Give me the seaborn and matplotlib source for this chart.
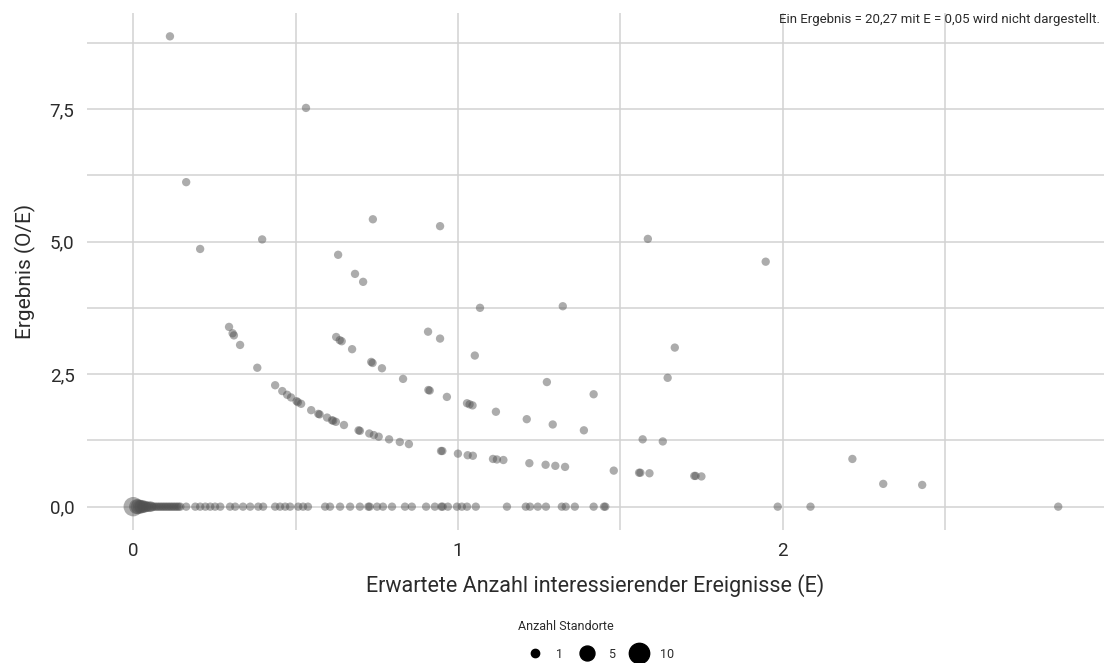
import numpy as np
import pandas as pd
import matplotlib
matplotlib.use("Agg")
import matplotlib.pyplot as plt
from matplotlib.lines import Line2D
from matplotlib.ticker import FixedLocator, FuncFormatter
import seaborn as sns

# ---------------- data ----------------
# expected events (E), result (O/E), number of sites per point
e_pos = [0.113, 0.163, 0.206, 0.295, 0.306, 0.310, 0.329, 0.382, 0.437, 0.459,
         0.474, 0.486, 0.503, 0.507, 0.517, 0.548, 0.570, 0.574, 0.597, 0.612,
         0.616, 0.624, 0.649, 0.694, 0.698, 0.727, 0.741, 0.756, 0.788, 0.821,
         0.849, 0.948, 0.952, 1.000, 1.030, 1.046, 1.108, 1.120, 1.140, 1.220,
         1.270, 1.300, 1.330, 1.480, 1.558, 1.562, 1.590, 1.728, 1.732, 1.750,
         2.310, 2.430,
         0.397, 0.625, 0.636, 0.642, 0.674, 0.733, 0.737, 0.766, 0.831, 0.909,
         0.913, 0.966, 1.028, 1.036, 1.045, 1.117, 1.212, 1.292, 1.388, 1.569,
         1.631, 2.215,
         0.631, 0.683, 0.708, 0.908, 0.945, 1.052, 1.274, 1.418,
         0.532, 0.738, 1.068, 1.646,
         0.945, 1.323, 1.668,
         1.585, 1.948]
oe_pos = [8.87, 6.12, 4.86, 3.39, 3.27, 3.23, 3.05, 2.62, 2.29, 2.18,
          2.11, 2.06, 1.99, 1.97, 1.94, 1.82, 1.75, 1.74, 1.68, 1.63,
          1.62, 1.60, 1.54, 1.44, 1.43, 1.38, 1.35, 1.32, 1.27, 1.22,
          1.18, 1.05, 1.05, 1.00, 0.97, 0.96, 0.90, 0.89, 0.88, 0.82,
          0.79, 0.77, 0.75, 0.68, 0.64, 0.64, 0.63, 0.58, 0.58, 0.57,
          0.43, 0.41,
          5.04, 3.20, 3.14, 3.12, 2.97, 2.73, 2.71, 2.61, 2.41, 2.20,
          2.19, 2.07, 1.95, 1.93, 1.91, 1.79, 1.65, 1.55, 1.44, 1.27,
          1.23, 0.90,
          4.75, 4.39, 4.24, 3.30, 3.17, 2.85, 2.35, 2.12,
          7.52, 5.42, 3.75, 2.43,
          5.29, 3.78, 3.00,
          5.05, 4.62]

e_zero = [0.000, 0.010, 0.015, 0.020, 0.025, 0.030, 0.035, 0.040, 0.045, 0.050,
          0.055, 0.060, 0.065, 0.070, 0.075, 0.080, 0.085, 0.090, 0.095, 0.100,
          0.105, 0.110, 0.115, 0.120, 0.125, 0.130, 0.135, 0.140, 0.145, 0.163,
          0.191, 0.206, 0.222, 0.237, 0.252, 0.268, 0.298, 0.314, 0.338, 0.360,
          0.385, 0.400, 0.437, 0.452, 0.468, 0.483, 0.508, 0.523, 0.538, 0.591,
          0.606, 0.637, 0.668, 0.698, 0.724, 0.728, 0.751, 0.769, 0.797, 0.837,
          0.858, 0.902, 0.929, 0.949, 0.953, 0.969, 0.997, 1.012, 1.028, 1.055,
          1.151, 1.209, 1.222, 1.246, 1.271, 1.320, 1.332, 1.360, 1.418, 1.450,
          1.454, 1.985, 2.086, 2.849]
n_zero = [9, 5, 5, 4, 4, 3, 3, 2, 2, 2,
          2, 1, 1, 1, 1, 1, 1, 1, 1, 1,
          1, 1, 1, 1, 1, 1, 1, 1, 1, 1,
          1, 1, 1, 1, 1, 1, 1, 1, 1, 1,
          1, 1, 1, 1, 1, 1, 1, 1, 1, 1,
          1, 1, 1, 1, 1, 1, 1, 1, 1, 1,
          1, 1, 1, 1, 1, 1, 1, 1, 1, 1,
          1, 1, 1, 1, 1, 1, 1, 1, 1, 1,
          1, 1, 1, 1]

x_ticks = [0, 1, 2]
y_ticks = [0.0, 2.5, 5.0, 7.5]
legend_sizes = [1, 5, 10]

x_label = "Erwartete Anzahl interessierender Ereignisse (E)"
y_label = "Ergebnis (O/E)"
legend_title = "Anzahl Standorte"
note = "Ein Ergebnis = 20,27 mit E = 0,05 wird nicht dargestellt."

df = pd.DataFrame({
    "E": e_pos + e_zero,
    "OE": oe_pos + [0.0] * len(e_zero),
    "n": [1] * len(e_pos) + n_zero,
})

# ---------------- style ----------------
sns.set_theme(style="white")
plt.rcParams["font.family"] = ["Roboto", "DejaVu Sans"]
text_col = "#2b2b2b"
grid_col = "#d2d2d2"

fig = plt.figure(figsize=(11.04, 6.63), dpi=100)
ax = fig.add_axes([87 / 1104, 1 - 530 / 663, 1 - 87 / 1104, (530 - 13) / 663])

size_range = (36, 215)
sns.scatterplot(data=df, x="E", y="OE", size="n", sizes=size_range,
                size_norm=(1, 10), color="#505050", alpha=0.47, linewidth=0,
                legend=False, ax=ax, zorder=3)

ax.set_xlim(-0.1425, 2.99)
ax.set_ylim(-0.44, 9.31)

ax.xaxis.set_major_locator(FixedLocator(x_ticks))
ax.xaxis.set_minor_locator(FixedLocator([0.5, 1.5, 2.5]))
ax.yaxis.set_major_locator(FixedLocator(y_ticks))
ax.yaxis.set_minor_locator(FixedLocator([1.25, 3.75, 6.25, 8.75]))
ax.xaxis.set_major_formatter(FuncFormatter(lambda v, p: f"{v:g}"))
ax.yaxis.set_major_formatter(FuncFormatter(lambda v, p: f"{v:.1f}".replace(".", ",")))

ax.grid(True, which="both", color=grid_col, linewidth=1.1)
ax.set_axisbelow(True)
for s in ax.spines.values():
    s.set_visible(False)
ax.tick_params(axis="both", which="both", length=0, labelsize=13.5,
               labelcolor=text_col, pad=9)

ax.set_xlabel(x_label, fontsize=15.5, color=text_col, labelpad=10)
ax.set_ylabel(y_label, fontsize=15, color=text_col, labelpad=10)

fig.text(1100 / 1104, 1 - 20 / 663, note, ha="right", va="center",
         fontsize=9.5, color=text_col)

# size legend
def area(n):
    lo, hi = size_range
    return lo + (hi - lo) * (n - 1) / 9

fig.text(566 / 1104, 1 - 627 / 663, legend_title, ha="center", va="center",
         fontsize=9, color=text_col)
handles = [Line2D([], [], linestyle="", marker="o", color="black",
                  markersize=np.sqrt(area(n)), label=str(n)) for n in legend_sizes]
leg = fig.legend(handles=handles, loc="center",
                 bbox_to_anchor=(598 / 1104, 1 - 654 / 663), ncol=3,
                 frameon=False, fontsize=9,
                 handletextpad=0.7, columnspacing=0.9, borderaxespad=0,
                 borderpad=0)
for t in leg.get_texts():
    t.set_color(text_col)

fig.savefig("out.png", dpi=100)
